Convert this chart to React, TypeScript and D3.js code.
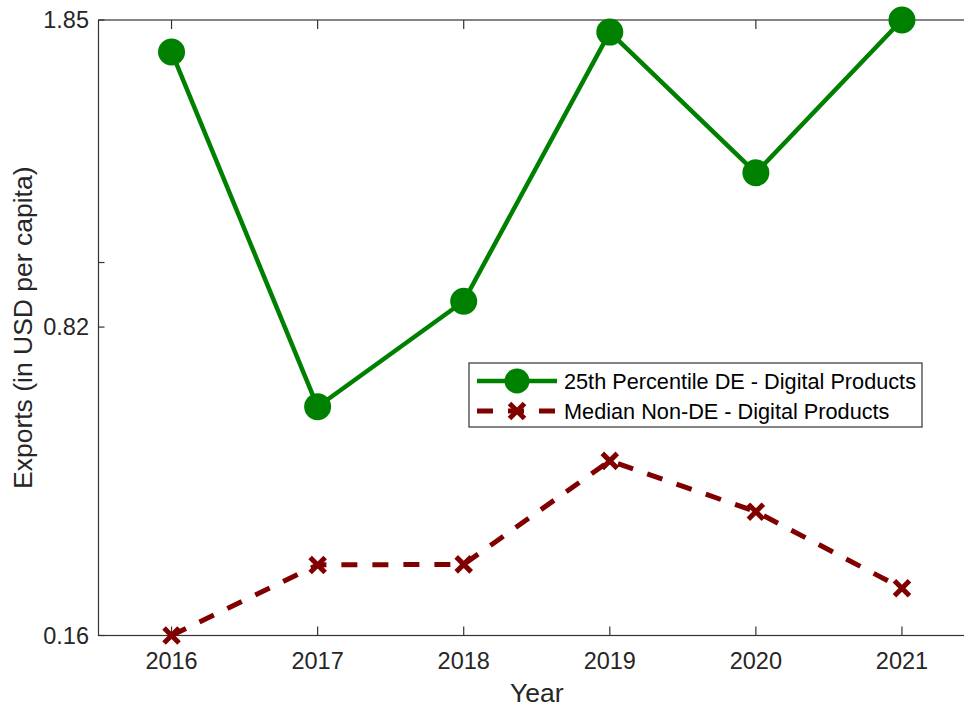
import React from "react";
import * as d3 from "d3";

const years = [2016, 2017, 2018, 2019, 2020, 2021];
const pct25DE = [1.72, 0.62, 0.89, 1.8, 1.28, 1.85];
const medianNonDE = [0.16, 0.286, 0.287, 0.497, 0.39, 0.243];
const yTickValues = [0.16, 0.82, 1, 1.85];
const yTickLabels = ["0.16", "0.82", "", "1.85"];
const seriesNames = [
  "25th Percentile DE - Digital Products",
  "Median Non-DE - Digital Products",
];

const W = 964;
const H = 707;
const left = 98.5;
const right = 975;
const top = 20;
const bottom = 635.5;
const axisColor = "#333333";
const green = "#008000";
const maroon = "#800000";
const font = "'Liberation Sans', Arial, Helvetica, sans-serif";

function XMark({ x, y, s, sw }: { x: number; y: number; s: number; sw: number }) {
  return (
    <path
      d={`M${x - s},${y - s}L${x + s},${y + s}M${x - s},${y + s}L${x + s},${y - s}`}
      stroke={maroon}
      strokeWidth={sw}
      fill="none"
    />
  );
}

export default function App() {
  const x = d3.scaleLinear().domain([2015.5, 2021.5]).range([left, right]);
  const y = d3.scaleSymlog().constant(1).domain([0.16, 1.85]).range([bottom, top]);
  const line = d3
    .line<number>()
    .x((_, i) => x(years[i]))
    .y((d) => y(d));

  const legX = 469;
  const legY = 363;
  const legW = 453;
  const legH = 64;
  const row1 = 381;
  const row2 = 411;

  return (
    <svg
      width={W}
      height={H}
      style={{ position: "absolute", left: 0, top: 0, background: "#fff" }}
      fontFamily={font}
    >
      <rect x={0} y={0} width={W} height={H} fill="#fff" />
      {/* axes box */}
      <rect
        x={left}
        y={top}
        width={right - left}
        height={bottom - top}
        fill="none"
        stroke={axisColor}
        strokeWidth={1.2}
      />
      {/* x ticks */}
      {years.map((yr) => (
        <g key={yr}>
          <line x1={x(yr)} x2={x(yr)} y1={bottom} y2={bottom - 9} stroke={axisColor} strokeWidth={1.2} />
          <line x1={x(yr)} x2={x(yr)} y1={top} y2={top + 9} stroke={axisColor} strokeWidth={1.2} />
          <text
            x={x(yr)}
            y={661}
            dy="0.35em"
            textAnchor="middle"
            fontSize={23.5}
            fill="#262626"
          >
            {yr}
          </text>
        </g>
      ))}
      {/* y ticks */}
      {yTickValues.map((v, i) => (
        <g key={v}>
          <line x1={left} x2={left + 6} y1={y(v)} y2={y(v)} stroke={axisColor} strokeWidth={1.2} />
          <line x1={right} x2={right - 6} y1={y(v)} y2={y(v)} stroke={axisColor} strokeWidth={1.2} />
          {yTickLabels[i] && (
            <text x={89} y={y(v)} dy="0.35em" textAnchor="end" fontSize={23.5} fill="#262626">
              {yTickLabels[i]}
            </text>
          )}
        </g>
      ))}
      {/* axis labels */}
      <text
        transform={`translate(32,${(top + bottom) / 2}) rotate(-90)`}
        textAnchor="middle"
        fontSize={26.5}
        fill="#262626"
      >
        Exports (in USD per capita)
      </text>
      <text x={(left + right) / 2} y={702} textAnchor="middle" fontSize={26.5} fill="#262626">
        Year
      </text>

      {/* series */}
      <path d={line(pct25DE) || ""} fill="none" stroke={green} strokeWidth={4.5} strokeLinejoin="round" />
      {pct25DE.map((v, i) => (
        <circle key={i} cx={x(years[i])} cy={y(v)} r={13.5} fill={green} />
      ))}
      <path
        d={line(medianNonDE) || ""}
        fill="none"
        stroke={maroon}
        strokeWidth={5}
        strokeDasharray="16,15"
      />
      {medianNonDE.map((v, i) => (
        <XMark key={i} x={x(years[i])} y={y(v)} s={7.5} sw={5} />
      ))}

      {/* legend */}
      <rect x={legX} y={legY} width={legW} height={legH} fill="#fff" stroke={axisColor} strokeWidth={1.2} />
      <line x1={477} x2={557} y1={row1} y2={row1} stroke={green} strokeWidth={4.5} />
      <circle cx={517} cy={row1} r={12.5} fill={green} />
      <text x={564} y={row1} dy="0.35em" fontSize={21.7} fill="#000">
        {seriesNames[0]}
      </text>
      <line x1={477} x2={557} y1={row2} y2={row2} stroke={maroon} strokeWidth={5} strokeDasharray="16,15" />
      <XMark x={517} y={row2} s={7.5} sw={5} />
      <text x={564} y={row2} dy="0.35em" fontSize={21.7} fill="#000">
        {seriesNames[1]}
      </text>
    </svg>
  );
}
